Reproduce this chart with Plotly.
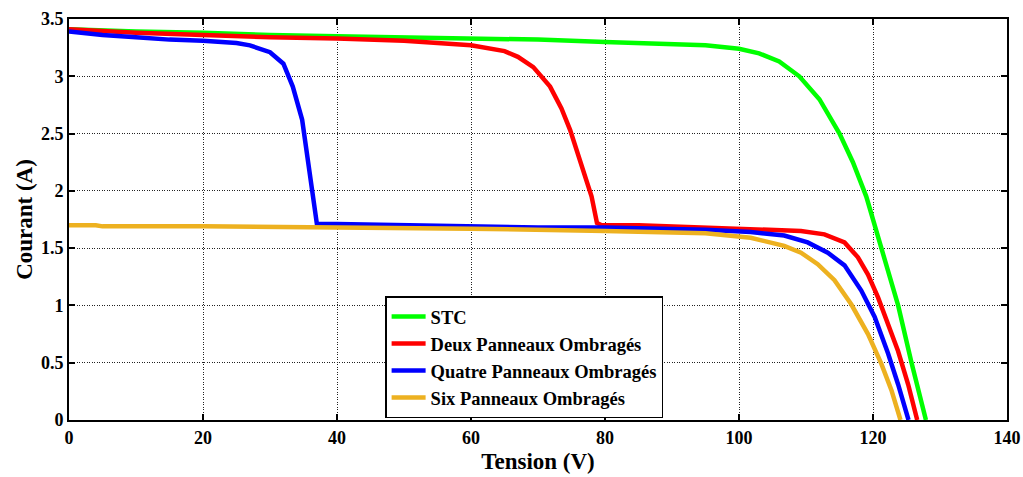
import plotly.graph_objects as go

stc_v = [0, 10, 20, 30, 40, 50, 60, 70, 80, 90, 95, 100, 103, 106, 109, 112, 115, 117, 119, 121.25, 123.75, 125.75, 127.9]
stc_i = [3.41, 3.39, 3.38, 3.36, 3.35, 3.34, 3.33, 3.32, 3.30, 3.28, 3.27, 3.24, 3.20, 3.13, 3.00, 2.80, 2.50, 2.25, 1.95, 1.5, 1.0, 0.5, 0]

deux_v = [0, 10, 20, 30, 40, 50, 60, 65, 67, 69.3, 71.8, 73.5, 74.8, 76.7, 78, 78.8, 79.5, 85, 90, 95, 100, 105, 109.25, 112.75, 115.75, 117.75, 119.25, 120.75, 122.25, 123.75, 125.25, 126.6]
deux_i = [3.41, 3.38, 3.36, 3.34, 3.33, 3.31, 3.27, 3.22, 3.17, 3.08, 2.91, 2.72, 2.53, 2.18, 1.95, 1.72, 1.70, 1.70, 1.69, 1.68, 1.67, 1.66, 1.65, 1.62, 1.55, 1.42, 1.27, 1.07, 0.84, 0.60, 0.31, 0]

quatre_v = [0, 5, 10, 15, 20, 25, 27, 30, 32, 33.4, 34.8, 35.5, 36.2, 37, 40, 50, 60, 70, 80, 90, 95, 101.75, 106.75, 110.25, 113.25, 115.75, 118.25, 120.25, 122.25, 123.75, 125.3]
quatre_i = [3.39, 3.36, 3.34, 3.32, 3.31, 3.29, 3.27, 3.21, 3.11, 2.91, 2.62, 2.33, 1.98, 1.71, 1.71, 1.70, 1.69, 1.68, 1.68, 1.67, 1.66, 1.64, 1.61, 1.55, 1.46, 1.35, 1.13, 0.90, 0.58, 0.31, 0]

six_v = [0, 4, 5, 20, 40, 60, 80, 90, 95, 101.75, 106.75, 109.25, 111.75, 114.25, 116.75, 119.25, 121.25, 122.75, 124.1]
six_i = [1.70, 1.70, 1.69, 1.69, 1.68, 1.67, 1.65, 1.64, 1.63, 1.59, 1.52, 1.46, 1.36, 1.22, 1.01, 0.75, 0.49, 0.26, 0]

names = ["STC", "Deux Panneaux Ombragés", "Quatre Panneaux Ombragés", "Six Panneaux Ombragés"]
colors = ["#00FF00", "#FF0000", "#0000FF", "#EDB120"]
series = [(stc_v, stc_i), (deux_v, deux_i), (quatre_v, quatre_i), (six_v, six_i)]

x_ticks = [0, 20, 40, 60, 80, 100, 120, 140]
y_ticks = [0, 0.5, 1, 1.5, 2, 2.5, 3, 3.5]

FONT = "Liberation Serif"

fig = go.Figure()
for (v, i), n, c in zip(series, names, colors):
    fig.add_trace(go.Scatter(x=v, y=i, mode="lines", name=n, legendgroup=n,
                             line=dict(color=c, width=4.5)))

axis_common = dict(
    showline=True, mirror="ticks", linecolor="black", linewidth=2,
    showgrid=True, gridcolor="#222222", gridwidth=1, griddash="1px,1.5px",
    ticks="inside", ticklen=6, tickcolor="black", tickwidth=1.5,
    zeroline=False, automargin=False,
    tickfont=dict(family=FONT, size=18, color="black", weight="bold"),
)

fig.update_xaxes(range=[0, 140], tickvals=x_ticks, ticktext=[str(t) for t in x_ticks],
                 title=dict(text="Tension (V)", font=dict(family=FONT, size=23, color="black", weight="bold"), standoff=6),
                 **axis_common)
fig.update_yaxes(range=[0, 3.5], tickvals=y_ticks, ticktext=[("%g" % t) for t in y_ticks],
                 title=dict(text="Courant (A)", font=dict(family=FONT, size=23, color="black", weight="bold"), standoff=2),
                 **axis_common)

fig.update_layout(
    width=1023, height=477,
    margin=dict(l=69, r=16, t=19, b=57),
    plot_bgcolor="white", paper_bgcolor="white",
    legend=dict(
        x=0.337, y=0.004, xanchor="left", yanchor="bottom",
        bgcolor="white", bordercolor="black", borderwidth=1.5,
        font=dict(family=FONT, size=18.5, color="black", weight="bold"),
        tracegroupgap=0, itemwidth=34,
    ),
)

fig.write_html("out.html")
